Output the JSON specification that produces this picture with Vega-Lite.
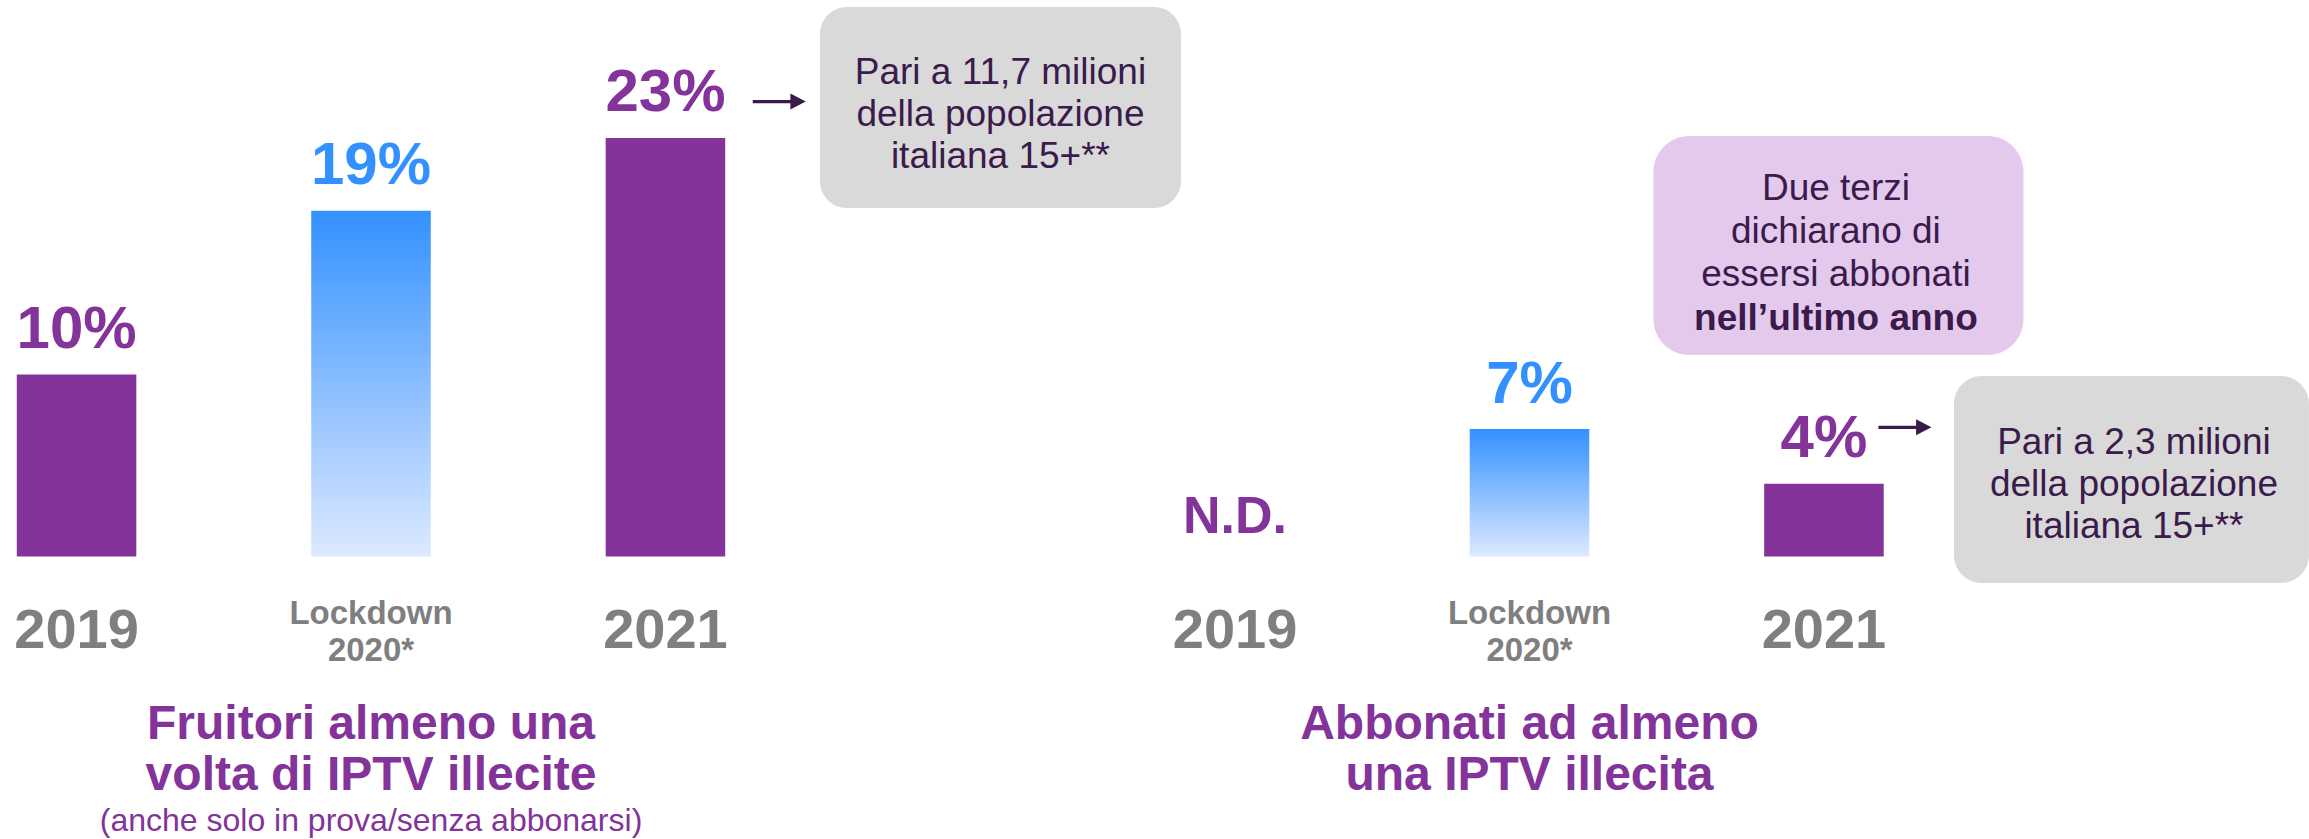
{
  "$schema": "https://vega.github.io/schema/vega-lite/v6.json",
  "padding": 0,
  "background": "white",
  "config": {"view": {"stroke": null}, "font": "Liberation Sans", "mark": {"invalid": "show"}},
  "datasets": {
    "fruitori": [
      {"anno": "2019", "quota": 0.10},
      {"anno": "Lockdown 2020*", "quota": 0.19},
      {"anno": "2021", "quota": 0.23}
    ],
    "abbonati": [
      {"anno": "2019", "quota": null},
      {"anno": "Lockdown 2020*", "quota": 0.07},
      {"anno": "2021", "quota": 0.04}
    ]
  },
  "bounds": "flush",
  "spacing": 416.5,
  "hconcat": [
    {
      "width": 742,
      "height": 556.5,
      "data": {"name": "fruitori"},
      "title": {
        "text": ["Fruitori almeno una", "volta di IPTV illecite"],
        "subtitle": "(anche solo in prova/senza abbonarsi)",
        "orient": "bottom", "anchor": "middle",
        "font": "Liberation Sans", "fontSize": 48, "fontWeight": "bold", "color": "#833399", "lineHeight": 51,
        "offset": 33,
        "subtitleFont": "Liberation Sans", "subtitleFontSize": 32, "subtitleFontWeight": "normal", "subtitleColor": "#833399",
        "subtitlePadding": 6.5
      },
      "encoding": {
        "x": {
          "field": "anno", "type": "nominal",
          "scale": {"domain": ["2019", "Lockdown 2020*", "2021"], "paddingInner": 0.594, "paddingOuter": 0.057},
          "axis": {
            "title": null, "domain": false, "ticks": false, "grid": false, "labelAngle": 0,
            "labelPadding": 74, "labelFont": "Liberation Sans", "labelFontWeight": "bold",
            "labelColor": "#7f7f7f", "labelLineHeight": 37, "labelOverlap": false, "labelLimit": 0,
            "labelBaseline": {"condition": {"test": "datum.value === 'Lockdown 2020*'", "value": "bottom"}, "value": "middle"},
            "labelFontSize": {"condition": {"test": "datum.value === 'Lockdown 2020*'", "value": 33}, "value": 56},
            "labelExpr": "datum.value === 'Lockdown 2020*' ? ['Lockdown', '2020*'] : datum.label"
          }
        },
        "y": {"field": "quota", "type": "quantitative", "scale": {"domain": [0, 0.3058], "nice": false}, "axis": null}
      },
      "layer": [
        {"transform": [{"filter": "datum.anno !== 'Lockdown 2020*'"}], "mark": {"type": "bar", "color": "#833399"}},
        {"transform": [{"filter": "datum.anno === 'Lockdown 2020*'"}], "mark": {"type": "bar", "color": {"gradient": "linear", "x1": 0, "y1": 0, "x2": 0, "y2": 1, "stops": [{"offset": 0, "color": "#3391ff"}, {"offset": 1, "color": "#dde9ff"}]}}},
        {
          "transform": [{"filter": "isValid(datum.quota)"}],
          "mark": {"type": "text", "baseline": "alphabetic", "align": "center", "dy": -26.5, "fontSize": 60, "fontWeight": "bold", "font": "Liberation Sans"},
          "encoding": {
            "text": {"field": "quota", "format": ".0%"},
            "color": {"condition": {"test": "datum.anno === 'Lockdown 2020*'", "value": "#3391ff"}, "value": "#833399"}
          }
        },
        {
          "transform": [{"filter": "datum.anno === '2021'"}],
          "mark": {"type": "bar", "width": 361, "xOffset": 335, "cornerRadius": 27, "color": "#d9d9d9"},
          "encoding": {"y": {"datum": 0.30192}, "y2": {"datum": 0.19148}}
        },
        {
          "transform": [{"filter": "datum.anno === '2021'"}],
          "mark": {"type": "text", "xOffset": 335, "align": "center", "baseline": "alphabetic", "fontSize": 37, "lineHeight": 42, "font": "Liberation Sans", "color": "#3b1a4c",
                   "text": ["Pari a 11,7 milioni", "della popolazione", "italiana 15+**"]},
          "encoding": {"y": {"datum": 0.25962}}
        },
        {
          "transform": [{"filter": "datum.anno === '2021'"}],
          "mark": {"type": "point", "filled": true, "opacity": 1, "xOffset": 113.8, "size": 2809, "color": "#3b1a4c",
                   "shape": "M -1 -0.06 L 0.42 -0.06 L 0.42 -0.3 L 1 0 L 0.42 0.3 L 0.42 0.06 L -1 0.06 Z"},
          "encoding": {"y": {"datum": 0.25}}
        }
      ]
    },
    {
      "width": 742,
      "height": 556.5,
      "data": {"name": "abbonati"},
      "title": {
        "text": ["Abbonati ad almeno", "una IPTV illecita"],
        "orient": "bottom", "anchor": "middle",
        "font": "Liberation Sans", "fontSize": 48, "fontWeight": "bold", "color": "#833399", "lineHeight": 51,
        "offset": 33
      },
      "encoding": {
        "x": {
          "field": "anno", "type": "nominal",
          "scale": {"domain": ["2019", "Lockdown 2020*", "2021"], "paddingInner": 0.594, "paddingOuter": 0.057},
          "axis": {
            "title": null, "domain": false, "ticks": false, "grid": false, "labelAngle": 0,
            "labelPadding": 74, "labelFont": "Liberation Sans", "labelFontWeight": "bold",
            "labelColor": "#7f7f7f", "labelLineHeight": 37, "labelOverlap": false, "labelLimit": 0,
            "labelBaseline": {"condition": {"test": "datum.value === 'Lockdown 2020*'", "value": "bottom"}, "value": "middle"},
            "labelFontSize": {"condition": {"test": "datum.value === 'Lockdown 2020*'", "value": 33}, "value": 56},
            "labelExpr": "datum.value === 'Lockdown 2020*' ? ['Lockdown', '2020*'] : datum.label"
          }
        },
        "y": {"field": "quota", "type": "quantitative", "scale": {"domain": [0, 0.3058], "nice": false}, "axis": null}
      },
      "layer": [
        {"transform": [{"filter": "datum.anno === '2021'"}], "mark": {"type": "bar", "color": "#833399"}},
        {"transform": [{"filter": "datum.anno === 'Lockdown 2020*'"}], "mark": {"type": "bar", "color": {"gradient": "linear", "x1": 0, "y1": 0, "x2": 0, "y2": 1, "stops": [{"offset": 0, "color": "#3391ff"}, {"offset": 1, "color": "#dde9ff"}]}}},
        {
          "transform": [{"filter": "isValid(datum.quota)"}],
          "mark": {"type": "text", "baseline": "alphabetic", "align": "center", "dy": -26.5, "fontSize": 60, "fontWeight": "bold", "font": "Liberation Sans"},
          "encoding": {
            "text": {"field": "quota", "format": ".0%"},
            "color": {"condition": {"test": "datum.anno === 'Lockdown 2020*'", "value": "#3391ff"}, "value": "#833399"}
          }
        },
        {
          "transform": [{"filter": "datum.anno === '2019'"}],
          "mark": {"type": "text", "baseline": "alphabetic", "align": "center", "dy": -23.5, "fontSize": 52, "fontWeight": "bold", "font": "Liberation Sans", "color": "#833399", "text": "N.D."},
          "encoding": {"y": {"datum": 0}}
        },
        {
          "transform": [{"filter": "datum.anno === '2021'"}],
          "mark": {"type": "bar", "width": 370, "xOffset": 14.5, "cornerRadius": 36, "color": "#e3c9ec"},
          "encoding": {"y": {"datum": 0.23104}, "y2": {"datum": 0.11071}}
        },
        {
          "transform": [{"filter": "datum.anno === '2021'"}],
          "mark": {"type": "text", "xOffset": 12, "align": "center", "baseline": "alphabetic", "fontSize": 37, "lineHeight": 43, "font": "Liberation Sans", "color": "#3b1a4c",
                   "text": ["Due terzi", "dichiarano di", "essersi abbonati"]},
          "encoding": {"y": {"datum": 0.19588}}
        },
        {
          "transform": [{"filter": "datum.anno === '2021'"}],
          "mark": {"type": "text", "xOffset": 12, "align": "center", "baseline": "alphabetic", "fontSize": 37, "fontWeight": "bold", "font": "Liberation Sans", "color": "#3b1a4c",
                   "text": "nell’ultimo anno"},
          "encoding": {"y": {"datum": 0.12445}}
        },
        {
          "transform": [{"filter": "datum.anno === '2021'"}],
          "mark": {"type": "bar", "width": 355, "xOffset": 307.5, "cornerRadius": 28, "color": "#d9d9d9"},
          "encoding": {"y": {"datum": 0.09918}, "y2": {"datum": -0.01456}}
        },
        {
          "transform": [{"filter": "datum.anno === '2021'"}],
          "mark": {"type": "text", "xOffset": 310, "align": "center", "baseline": "alphabetic", "fontSize": 37, "lineHeight": 42, "font": "Liberation Sans", "color": "#3b1a4c",
                   "text": ["Pari a 2,3 milioni", "della popolazione", "italiana 15+**"]},
          "encoding": {"y": {"datum": 0.05632}}
        },
        {
          "transform": [{"filter": "datum.anno === '2021'"}],
          "mark": {"type": "point", "filled": true, "opacity": 1, "xOffset": 81, "size": 2809, "color": "#3b1a4c",
                   "shape": "M -1 -0.06 L 0.42 -0.06 L 0.42 -0.3 L 1 0 L 0.42 0.3 L 0.42 0.06 L -1 0.06 Z"},
          "encoding": {"y": {"datum": 0.071}}
        }
      ]
    }
  ]
}
